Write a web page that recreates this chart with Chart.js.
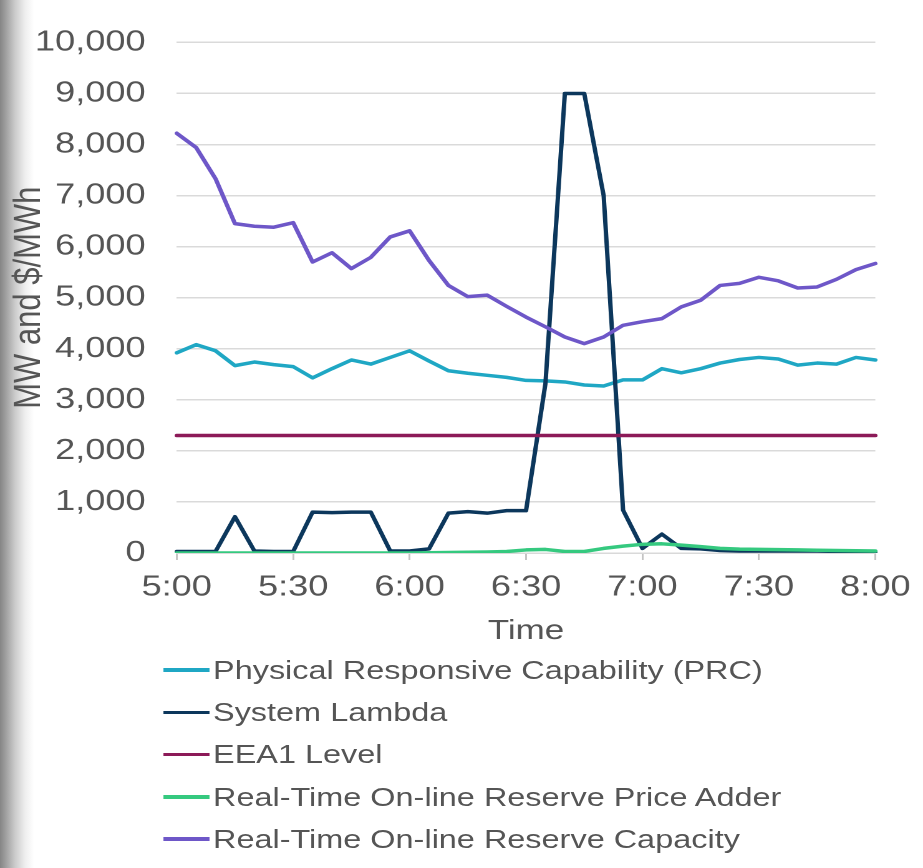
<!DOCTYPE html>
<html>
<head>
<meta charset="utf-8">
<script src="https://cdn.jsdelivr.net/npm/chart.js@4.4.1/dist/chart.umd.min.js"></script>
<style>
  html, body { margin: 0; padding: 0; background: #fff; }
  body { width: 923px; height: 868px; overflow: hidden; position: relative; }
  #edge {
    position: absolute; left: 0; top: 0; width: 40px; height: 868px;
    background: linear-gradient(to right, #858585 0px, #a0a0a0 6px, #cbcbcb 15px, #eeeeee 25px, #ffffff 34px);
  }
  #stage {
    position: absolute; left: 0; top: 0; width: 740px; height: 868px;
    transform: scaleX(1.2473); transform-origin: 0 0;
  }
  #chart { position: absolute; left: 0; top: 0; }
  #legend {
    position: absolute; left: 130.7px; top: 648.9px;
    font-family: "Liberation Sans", Arial, sans-serif; font-size: 26px; color: #555555;
  }
  .item { display: flex; align-items: center; height: 42.25px; line-height: 42.25px; white-space: nowrap; }
  .swatch { width: 37.7px; height: 3.5px; margin-right: 2.4px; }
</style>
</head>
<body>
<div id="edge"></div>
<div id="stage">
  <canvas id="chart" width="740" height="650"></canvas>
  <div id="legend"></div>
</div>
<script>
// Five-minute intervals, 5:00 to 8:00
const times = ['5:00','5:05','5:10','5:15','5:20','5:25','5:30','5:35','5:40','5:45','5:50','5:55',
               '6:00','6:05','6:10','6:15','6:20','6:25','6:30','6:35','6:40','6:45','6:50','6:55',
               '7:00','7:05','7:10','7:15','7:20','7:25','7:30','7:35','7:40','7:45','7:50','7:55','8:00'];

// Physical Responsive Capability (MW)
const prc = [3920,4080,3960,3670,3740,3690,3650,3430,3610,3780,3700,3830,
             3960,3760,3570,3520,3480,3440,3380,3370,3350,3290,3270,3390,
             3390,3610,3530,3610,3720,3790,3830,3800,3680,3720,3700,3830,3780];

// System Lambda ($/MWh)
const systemLambda = [30,30,30,710,40,30,30,800,790,800,800,40,
                      40,80,780,810,780,830,830,3320,9000,9000,7000,840,
                      90,370,90,80,50,40,40,40,40,40,30,30,20];

// EEA1 trigger level (MW)
const eea1Level = [2300,2300,2300,2300,2300,2300,2300,2300,2300,2300,2300,2300,
                   2300,2300,2300,2300,2300,2300,2300,2300,2300,2300,2300,2300,
                   2300,2300,2300,2300,2300,2300,2300,2300,2300,2300,2300,2300,2300];

// Real-Time On-line Reserve Price Adder ($/MWh)
const priceAdder = [0,0,0,0,0,0,0,0,0,0,0,0,
                    0,5,10,15,20,30,60,70,30,30,90,135,
                    170,180,155,125,90,75,70,65,60,55,50,45,40];

// Real-Time On-line Reserve Capacity (MW)
const reserveCapacity = [8220,7940,7330,6450,6400,6380,6470,5700,5880,5570,5790,6190,
                         6310,5730,5240,5020,5050,4830,4620,4430,4230,4100,4230,4460,
                         4530,4590,4820,4950,5240,5280,5400,5330,5190,5210,5360,5550,5670];

// Y axis range and spacing
const yTicks = { min: 0, max: 10000, step: 1000 };

const FONT = '"Liberation Sans", Arial, sans-serif';
const TEXT = '#555555';

const datasets = [
  { label: 'Physical Responsive Capability (PRC)', data: prc, borderColor: '#1fa7c4', order: 5 },
  { label: 'System Lambda', data: systemLambda, borderColor: '#0c375c', order: 4 },
  { label: 'EEA1 Level', data: eea1Level, borderColor: '#8c1a58', order: 3 },
  { label: 'Real-Time On-line Reserve Price Adder', data: priceAdder, borderColor: '#35c97f', order: 2 },
  { label: 'Real-Time On-line Reserve Capacity', data: reserveCapacity, borderColor: '#6e57c8', order: 1 }
].map(d => Object.assign({ backgroundColor: d.borderColor, fill: false }, d));

const chart = new Chart(document.getElementById('chart'), {
  type: 'line',
  data: { labels: times, datasets },
  options: {
    responsive: false,
    animation: false,
    devicePixelRatio: 2,
    layout: { padding: { top: 41.7, right: 37.7, bottom: 0, left: 0 } },
    plugins: { legend: { display: false }, tooltip: { enabled: false } },
    elements: {
      point: { radius: 0 },
      line: { tension: 0, borderWidth: 3.5, borderJoinStyle: 'round', borderCapStyle: 'round' }
    },
    scales: {
      x: {
        type: 'category',
        offset: false,
        grid: {
          drawOnChartArea: false,
          drawTicks: true,
          tickLength: 7,
          lineWidth: 1.5,
          color: c => (c.index % 6 === 0 ? '#c4c4c4' : 'rgba(0,0,0,0)')
        },
        border: { display: true, color: '#d9d9d9', width: 1.5 },
        ticks: {
          autoSkip: false, maxRotation: 0, minRotation: 0, padding: 10,
          color: TEXT, font: { family: FONT, size: 29 },
          callback: (v, i) => (i % 6 === 0 ? times[i] : '')
        },
        title: {
          display: true, text: 'Time', color: TEXT,
          font: { family: FONT, size: 28 }, padding: { top: 0, bottom: 2 }
        },
        afterFit: s => { s.height = 97; }
      },
      y: {
        min: yTicks.min, max: yTicks.max,
        grid: { color: '#dadada', lineWidth: 1.5, drawTicks: false },
        border: { display: false },
        ticks: {
          stepSize: yTicks.step, padding: 25, color: TEXT,
          font: { family: FONT, size: 29 },
          callback: v => v.toLocaleString('en-US')
        },
        title: {
          display: true, text: 'MW and $/MWh', color: TEXT,
          font: { family: FONT, size: 31 }, padding: { top: 5, bottom: 0 }
        },
        afterFit: s => { s.width = 141.7; }
      }
    }
  }
});

// Legend list built from the chart's datasets
const legend = document.getElementById('legend');
chart.data.datasets.forEach(ds => {
  const row = document.createElement('div');
  row.className = 'item';
  const sw = document.createElement('span');
  sw.className = 'swatch';
  sw.style.background = ds.borderColor;
  const txt = document.createElement('span');
  txt.textContent = ds.label;
  row.appendChild(sw);
  row.appendChild(txt);
  legend.appendChild(row);
});
</script>
</body>
</html>
